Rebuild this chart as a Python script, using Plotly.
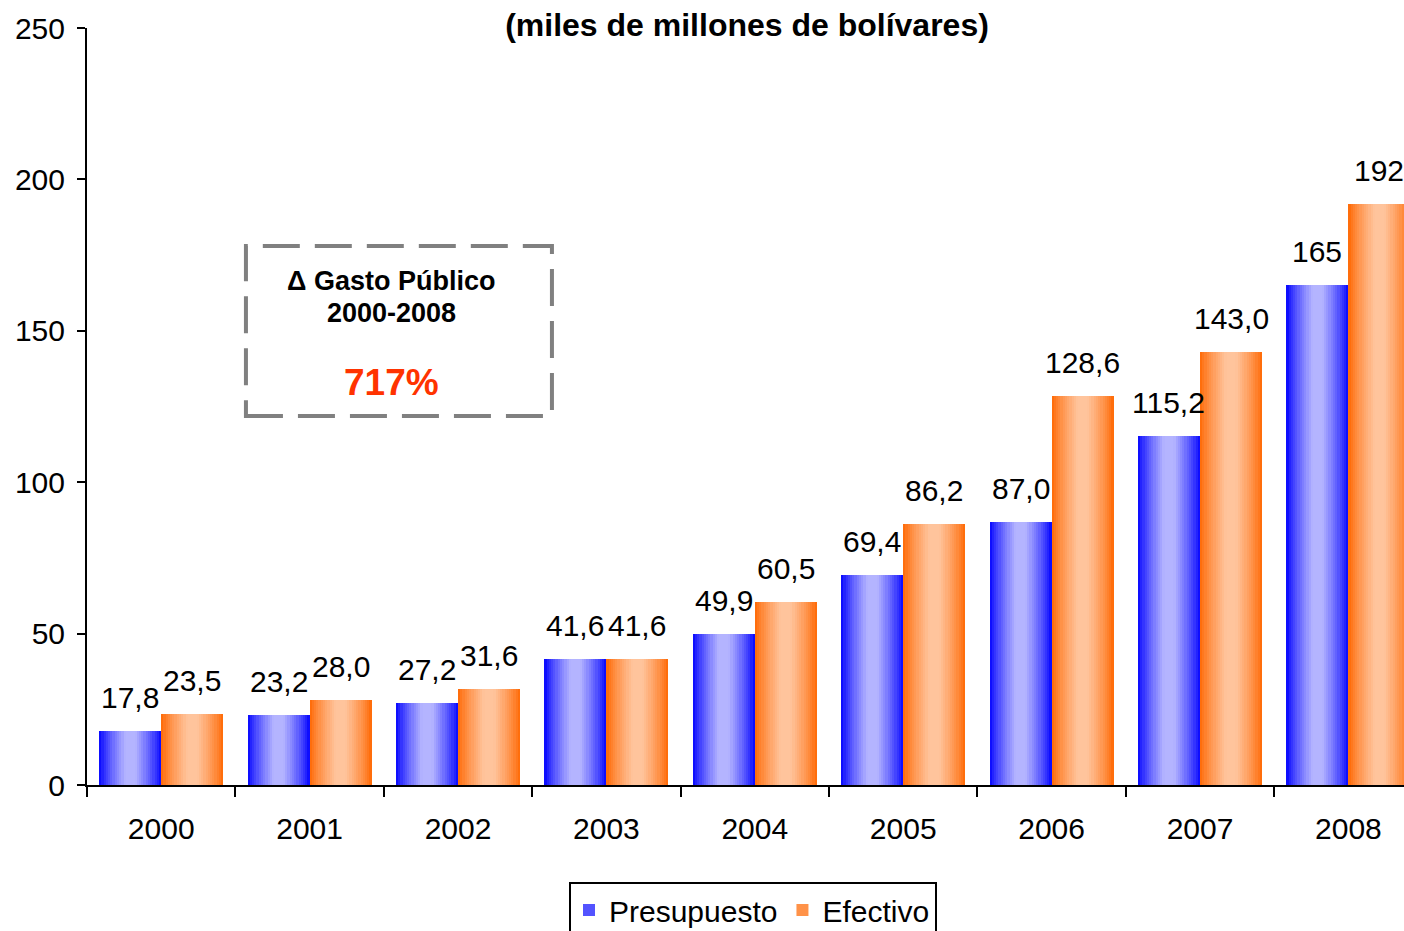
import plotly.graph_objects as go

years = ["2000", "2001", "2002", "2003", "2004", "2005", "2006", "2007", "2008"]
presupuesto = [17.8, 23.2, 27.2, 41.6, 49.9, 69.4, 87.0, 115.2, 165]
efectivo = [23.5, 28.0, 31.6, 41.6, 60.5, 86.2, 128.6, 143.0, 192]
pres_labels = ["17,8", "23,2", "27,2", "41,6", "49,9", "69,4", "87,0", "115,2", "165"]
efec_labels = ["23,5", "28,0", "31,6", "41,6", "60,5", "86,2", "128,6", "143,0", "192"]
y_ticks = [0, 50, 100, 150, 200, 250]

FONT = "Arial, Liberation Sans, sans-serif"
BAR_W = 0.418
N_SLICES = 28
W, H = 1404, 931


def mix(c1, c2, t):
    return "rgb(%d,%d,%d)" % tuple(round(a + (b - a) * t) for a, b in zip(c1, c2))


def profile(u):
    if u < 0.42:
        return (u / 0.42) ** 0.8
    if u < 0.58:
        return 1.0
    return max(0.0, (1 - u) / 0.42) ** 0.8


series = [
    ("Presupuesto", presupuesto, -BAR_W, (0, 0, 255), (180, 180, 255)),
    ("Efectivo", efectivo, 0.0, (255, 102, 0), (255, 196, 156)),
]

fig = go.Figure()
sw = BAR_W / N_SLICES
for name, vals, base, edge, light in series:
    for k in range(N_SLICES):
        u = (k + 0.5) / N_SLICES
        col = mix(edge, light, profile(u))
        w = sw * 1.15 if k < N_SLICES - 1 else sw
        fig.add_trace(go.Bar(
            x=years, y=vals, name=name, legendgroup=name,
            showlegend=(k == 4),
            offset=base + k * sw, width=w,
            marker=dict(color=col, line=dict(width=0)),
            hoverinfo="skip",
        ))

for vals, labels, dx in [(presupuesto, pres_labels, -BAR_W / 2), (efectivo, efec_labels, BAR_W / 2)]:
    for i, (v, t) in enumerate(zip(vals, labels)):
        fig.add_annotation(x=i + dx, y=v, xref="x", yref="y", text=t, showarrow=False,
                           yanchor="bottom", yshift=15,
                           font=dict(family=FONT, size=30, color="black"))

fig.add_shape(type="rect", xref="x", yref="y", x0=0.571, x1=2.633, y0=121.9, y1=178.0,
              line=dict(color="#808080", width=4, dash="37px,15px"), fillcolor="rgba(0,0,0,0)")
fig.add_annotation(x=1.549, y=166.4, xref="x", yref="y", text="<b>Δ Gasto Público</b>",
                   showarrow=False, font=dict(family=FONT, size=27, color="black"))
fig.add_annotation(x=1.549, y=155.9, xref="x", yref="y", text="<b>2000-2008</b>",
                   showarrow=False, font=dict(family=FONT, size=27, color="black"))
fig.add_annotation(x=1.549, y=132.8, xref="x", yref="y", text="<b>717%</b>",
                   showarrow=False, font=dict(family=FONT, size=37, color="#FF3300"))

fig.update_layout(
    width=W, height=H,
    margin=dict(l=87, r=0, t=28, b=H - 785),
    paper_bgcolor="white", plot_bgcolor="white",
    barmode="overlay", bargap=0,
    font=dict(family=FONT, size=30, color="black"),
    title=dict(text="<b>(miles de millones de bolívares)</b>", xref="container", yref="container",
               x=747 / W, y=1 - 25 / H, xanchor="center", yanchor="middle",
               font=dict(family=FONT, size=32, color="black")),
    xaxis=dict(type="category", range=[-0.5, -0.5 + 1317 / 148.4],
               showline=True, linecolor="black", linewidth=2,
               ticks="outside", ticklen=10, tickwidth=2, tickcolor="black",
               tickson="boundaries", showgrid=False, zeroline=False,
               tickfont=dict(family=FONT, size=30), ticklabelstandoff=16),
    yaxis=dict(range=[0, 250], tickvals=y_ticks, showline=True, linecolor="black", linewidth=2,
               ticks="outside", ticklen=8, tickwidth=2, tickcolor="black",
               showgrid=False, zeroline=False,
               tickfont=dict(family=FONT, size=30), ticklabelstandoff=6),
    legend=dict(orientation="h", xref="container", yref="container",
                x=753 / W, y=1 - 882 / H, xanchor="center", yanchor="top",
                bordercolor="black", borderwidth=2, bgcolor="white",
                font=dict(family=FONT, size=30), itemwidth=30),
    showlegend=True,
)

fig.write_html(
    "out.html",
    config={"displayModeBar": False, "staticPlot": True},
    post_script="document.body.style.margin='0';document.body.style.overflow='hidden';"
                "document.documentElement.style.overflow='hidden';",
)
